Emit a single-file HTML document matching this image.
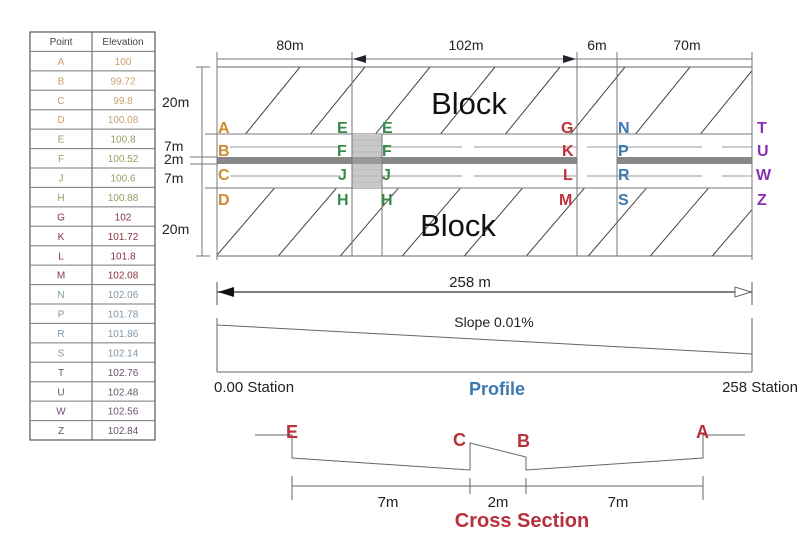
<!DOCTYPE html>
<html><head><meta charset="utf-8"><style>
html,body{margin:0;padding:0;background:#fff;}
svg{display:block;font-family:"Liberation Sans",Arial,sans-serif;}
</style></head><body>
<svg width="803" height="549" viewBox="0 0 803 549" xmlns="http://www.w3.org/2000/svg">
<defs>
<clipPath id="top"><rect x="217" y="67" width="535" height="67"/></clipPath>
<clipPath id="bot"><rect x="217" y="188" width="535" height="68"/></clipPath>
</defs>
<!-- table -->
<g font-size="10" text-anchor="middle">
<rect x="30" y="32" width="125" height="408" fill="#fff" stroke="#555" stroke-width="1.2"/>
<line x1="92" y1="32" x2="92" y2="440" stroke="#555"/>
<g stroke="#777" stroke-width="1">
<line x1="30" y1="51.4" x2="155" y2="51.4"/><line x1="30" y1="70.9" x2="155" y2="70.9"/><line x1="30" y1="90.3" x2="155" y2="90.3"/><line x1="30" y1="109.7" x2="155" y2="109.7"/><line x1="30" y1="129.1" x2="155" y2="129.1"/><line x1="30" y1="148.6" x2="155" y2="148.6"/><line x1="30" y1="168" x2="155" y2="168"/><line x1="30" y1="187.4" x2="155" y2="187.4"/><line x1="30" y1="206.9" x2="155" y2="206.9"/><line x1="30" y1="226.3" x2="155" y2="226.3"/><line x1="30" y1="245.7" x2="155" y2="245.7"/><line x1="30" y1="265.1" x2="155" y2="265.1"/><line x1="30" y1="284.6" x2="155" y2="284.6"/><line x1="30" y1="304" x2="155" y2="304"/><line x1="30" y1="323.4" x2="155" y2="323.4"/><line x1="30" y1="342.9" x2="155" y2="342.9"/><line x1="30" y1="362.3" x2="155" y2="362.3"/><line x1="30" y1="381.7" x2="155" y2="381.7"/><line x1="30" y1="401.1" x2="155" y2="401.1"/><line x1="30" y1="420.6" x2="155" y2="420.6"/>
</g>
<text x="61" y="45" fill="#444">Point</text><text x="123" y="45" fill="#444">Elevation</text>
<g fill="#c9a070"><text x="61" y="65">A</text><text x="123" y="65">100</text><text x="61" y="84.4">B</text><text x="123" y="84.4">99.72</text><text x="61" y="103.8">C</text><text x="123" y="103.8">99.8</text><text x="61" y="123.2">D</text><text x="123" y="123.2">100.08</text></g>
<g fill="#9a9a60"><text x="61" y="142.7">E</text><text x="123" y="142.7">100.8</text><text x="61" y="162.1">F</text><text x="123" y="162.1">100.52</text><text x="61" y="181.5">J</text><text x="123" y="181.5">100.6</text><text x="61" y="201">H</text><text x="123" y="201">100.88</text></g>
<g fill="#8a3040"><text x="61" y="220.4">G</text><text x="123" y="220.4">102</text><text x="61" y="239.8">K</text><text x="123" y="239.8">101.72</text><text x="61" y="259.3">L</text><text x="123" y="259.3">101.8</text><text x="61" y="278.7">M</text><text x="123" y="278.7">102.08</text></g>
<g fill="#8098a8"><text x="61" y="298.1">N</text><text x="123" y="298.1">102.06</text><text x="61" y="317.5">P</text><text x="123" y="317.5">101.78</text><text x="61" y="337">R</text><text x="123" y="337">101.86</text><text x="61" y="356.4">S</text><text x="123" y="356.4">102.14</text></g>
<g fill="#6a5070"><text x="61" y="375.8">T</text><text x="123" y="375.8">102.76</text><text x="61" y="395.3">U</text><text x="123" y="395.3">102.48</text><text x="61" y="414.7">W</text><text x="123" y="414.7">102.56</text><text x="61" y="434.1">Z</text><text x="123" y="434.1">102.84</text></g>
</g>

<!-- plan -->
<g stroke="#444" stroke-width="1" fill="none">
<g clip-path="url(#top)"><path d="M200,190 L300,67 M265,190 L365,67 M330,190 L430,67 M395,190 L495,67 M460,190 L560,67 M525,190 L625,67 M590,190 L690,67 M655,190 L755,67 M720,190 L820,67"/></g>
<g clip-path="url(#bot)"><path d="M200,275 L290,170 M262,275 L352,170 M324,275 L414,170 M386,275 L476,170 M448,275 L538,170 M510,275 L600,170 M572,275 L662,170 M634,275 L724,170 M696,275 L786,170"/></g>
<rect x="217" y="67" width="535" height="189" stroke="#666"/>
<line x1="217" y1="134" x2="752" y2="134" stroke="#777"/>
<line x1="217" y1="188" x2="752" y2="188" stroke="#777"/>
<line x1="205" y1="134" x2="217" y2="134" stroke="#777"/>
<line x1="205" y1="188" x2="217" y2="188" stroke="#777"/>
<line x1="190" y1="157" x2="217" y2="157" stroke="#777"/>
<line x1="190" y1="164" x2="217" y2="164" stroke="#777"/>
<g stroke="#999" stroke-dasharray="110,12"><line x1="230" y1="147" x2="577" y2="147"/><line x1="230" y1="176" x2="577" y2="176"/></g>
<g stroke="#999"><line x1="587" y1="147" x2="702" y2="147"/><line x1="587" y1="176" x2="702" y2="176"/><line x1="722" y1="147" x2="752" y2="147"/><line x1="722" y1="176" x2="752" y2="176"/></g>
</g>
<rect x="217" y="157" width="360" height="7" fill="#888"/>
<rect x="617" y="157" width="135" height="7" fill="#888"/>
<rect x="352" y="134" width="30" height="54" fill="#c8c8c8"/>
<g stroke="#aaa" stroke-width="0.6"><line x1="352" y1="140" x2="382" y2="140"/><line x1="352" y1="146" x2="382" y2="146"/><line x1="352" y1="152" x2="382" y2="152"/><line x1="352" y1="170" x2="382" y2="170"/><line x1="352" y1="176" x2="382" y2="176"/><line x1="352" y1="182" x2="382" y2="182"/></g>
<rect x="352" y="157" width="30" height="7" fill="#999"/>
<g stroke="#777" stroke-width="1" fill="none">
<line x1="217" y1="52" x2="217" y2="260"/><line x1="752" y1="52" x2="752" y2="260"/>
<line x1="352" y1="52" x2="352" y2="256"/><line x1="382" y1="134" x2="382" y2="256"/>
<line x1="577" y1="52" x2="577" y2="256"/><line x1="617" y1="52" x2="617" y2="256"/>
<line x1="217" y1="59" x2="752" y2="59"/>
<line x1="202" y1="67" x2="202" y2="256"/><line x1="196" y1="67" x2="210" y2="67"/><line x1="196" y1="256" x2="210" y2="256"/>
</g>
<path d="M353,59 L366,55 L366,63 Z" fill="#223"/>
<path d="M576,59 L563,55 L563,63 Z" fill="#223"/>
<g font-size="14" fill="#222" text-anchor="middle"><text x="290" y="50">80m</text><text x="466" y="50">102m</text><text x="597" y="50">6m</text><text x="687" y="50">70m</text></g>
<g font-size="14" fill="#222"><text x="162" y="107">20m</text><text x="162" y="234">20m</text><text x="164" y="151">7m</text><text x="164" y="164">2m</text><text x="164" y="183">7m</text></g>
<g font-size="31" fill="#111" text-anchor="middle"><text x="469" y="114">Block</text><text x="458" y="236">Block</text></g>
<g font-size="16" font-weight="bold">
<g fill="#d08a30"><text x="218" y="133">A</text><text x="218" y="156">B</text><text x="218" y="180">C</text><text x="218" y="205">D</text></g>
<g fill="#3a8a4a"><text x="337" y="133">E</text><text x="337" y="156">F</text><text x="338" y="180">J</text><text x="337" y="205">H</text><text x="382" y="133">E</text><text x="382" y="156">F</text><text x="382" y="180">J</text><text x="381" y="205">H</text></g>
<g fill="#c0303a"><text x="561" y="133">G</text><text x="562" y="156">K</text><text x="563" y="180">L</text><text x="559" y="205">M</text></g>
<g fill="#3a78b0"><text x="618" y="133">N</text><text x="618" y="156">P</text><text x="618" y="180">R</text><text x="618" y="205">S</text></g>
<g fill="#8a30b0"><text x="757" y="133">T</text><text x="757" y="156">U</text><text x="756" y="180">W</text><text x="757" y="205">Z</text></g>
</g>

<!-- 258 m -->
<g stroke="#555" fill="none">
<line x1="217" y1="292" x2="752" y2="292" stroke-width="1.5"/>
<line x1="217" y1="282" x2="217" y2="305"/>
<line x1="752" y1="282" x2="752" y2="305"/>
</g>
<path d="M218,292 L234,287 L234,297 Z" fill="#111"/>
<path d="M751,292 L735,287 L735,297 Z" fill="#fff" stroke="#666"/>
<text x="470" y="287" font-size="15" fill="#222" text-anchor="middle">258 m</text>
<!-- profile -->
<g stroke="#666" fill="none">
<line x1="217" y1="318" x2="217" y2="372"/><line x1="752" y1="318" x2="752" y2="372"/>
<line x1="217" y1="372" x2="752" y2="372"/>
<line x1="217" y1="325" x2="752" y2="354"/>
</g>
<text x="494" y="327" font-size="14" fill="#222" text-anchor="middle">Slope 0.01%</text>
<text x="214" y="392" font-size="15" fill="#222">0.00 Station</text>
<text x="798" y="392" font-size="15" fill="#222" text-anchor="end">258 Station</text>
<text x="497" y="395" font-size="18" font-weight="bold" fill="#3a78b0" text-anchor="middle">Profile</text>
<!-- cross section -->
<g stroke="#666" fill="none">
<path d="M255,435 L292,435 L292,458 L470,470 L470,443 L526,457 L526,470 L703,458 L703,435 L745,435"/>
<line x1="292" y1="486" x2="703" y2="486"/>
<line x1="292" y1="476" x2="292" y2="500"/><line x1="470" y1="478" x2="470" y2="494"/><line x1="526" y1="478" x2="526" y2="494"/><line x1="703" y1="476" x2="703" y2="500"/>
</g>
<g font-size="18" font-weight="bold" fill="#b8303a"><text x="286" y="438">E</text><text x="453" y="446">C</text><text x="517" y="447">B</text><text x="696" y="438">A</text></g>
<g font-size="15" fill="#222" text-anchor="middle"><text x="388" y="507">7m</text><text x="498" y="507">2m</text><text x="618" y="507">7m</text></g>
<text x="522" y="527" font-size="20" font-weight="bold" fill="#b8303a" text-anchor="middle">Cross Section</text>
</svg>
</body></html>
